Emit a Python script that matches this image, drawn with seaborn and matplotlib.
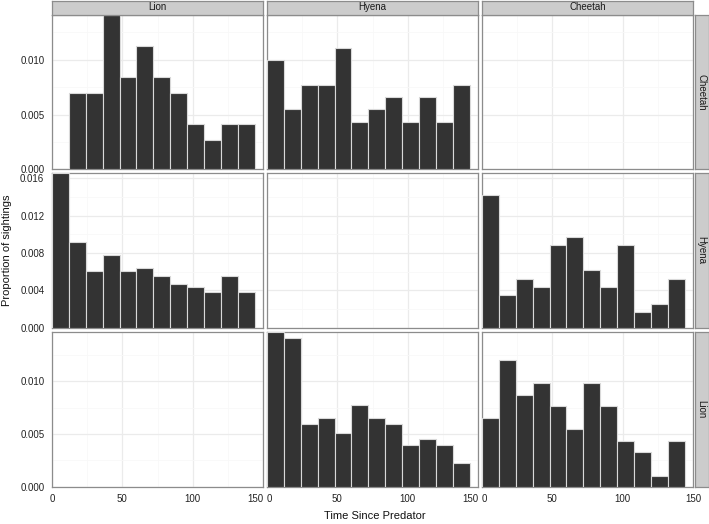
import numpy as np
import pandas as pd
import matplotlib
matplotlib.use("Agg")
import matplotlib.pyplot as plt
import seaborn as sns

# ---- data ----
predators = ["Lion", "Hyena", "Cheetah"]          # columns (facet)
responders = ["Cheetah", "Hyena", "Lion"]         # rows (facet)
bin_edges = [0, 12, 24, 36, 48, 60, 72, 84, 96, 108, 120, 132, 144]

cheetah_after_lion = [0.0, 0.00697, 0.00697, 0.01408, 0.00838, 0.01121, 0.00838, 0.00697, 0.00414, 0.00271, 0.00414, 0.00414]
cheetah_after_hyena = [0.00994, 0.00548, 0.00771, 0.00771, 0.01103, 0.00436, 0.00548, 0.00658, 0.00436, 0.00658, 0.00436, 0.00771]
hyena_after_lion = [0.01653, 0.00921, 0.0061, 0.00778, 0.0061, 0.00636, 0.0055, 0.00468, 0.00439, 0.00382, 0.0055, 0.00382]
hyena_after_cheetah = [0.01421, 0.00347, 0.00525, 0.00436, 0.00882, 0.00974, 0.00615, 0.00436, 0.00882, 0.00168, 0.00257, 0.00525]
lion_after_hyena = [0.01469, 0.01407, 0.00597, 0.00654, 0.00512, 0.00772, 0.00654, 0.00597, 0.00398, 0.00455, 0.00398, 0.00222]
lion_after_cheetah = [0.00654, 0.01204, 0.00872, 0.00983, 0.00762, 0.00547, 0.00983, 0.00762, 0.0043, 0.00326, 0.00104, 0.0043]

panel_data = {
    ("Cheetah", "Lion"): cheetah_after_lion,
    ("Cheetah", "Hyena"): cheetah_after_hyena,
    ("Hyena", "Lion"): hyena_after_lion,
    ("Hyena", "Cheetah"): hyena_after_cheetah,
    ("Lion", "Hyena"): lion_after_hyena,
    ("Lion", "Cheetah"): lion_after_cheetah,
}

x_ticks = [0, 50, 100, 150]
x_tick_labels = ["0", "50", "100", "150"]
row_yticks = {
    "Cheetah": [0.0, 0.005, 0.010],
    "Hyena": [0.0, 0.004, 0.008, 0.012, 0.016],
    "Lion": [0.0, 0.005, 0.010],
}
row_ymax = {"Cheetah": 0.01408, "Hyena": 0.01653, "Lion": 0.01469}

# ---- style ----
sns.set_style("white")
plt.rcParams["font.family"] = ["Liberation Sans", "DejaVu Sans"]

W, H = 709, 524
fig = plt.figure(figsize=(W / 100, H / 100), dpi=100)

col_x = [(52, 263), (267, 478), (482, 693)]
row_y = [(15, 169.3), (173.3, 327.7), (331.7, 486.7)]
border_c = "#8c8c8c"
strip_c = "#cccccc"

def fig_rect(x0, x1, y0, y1):
    return [x0 / W, 1 - y1 / H, (x1 - x0) / W, (y1 - y0) / H]

centers = [(bin_edges[i] + bin_edges[i + 1]) / 2 for i in range(len(bin_edges) - 1)]

for ri, resp in enumerate(responders):
    for ci, pred in enumerate(predators):
        x0, x1 = col_x[ci]
        y0, y1 = row_y[ri]
        ax = fig.add_axes(fig_rect(x0, x1, y0, y1))
        ax.set_facecolor("white")
        vals = panel_data.get((resp, pred))
        if vals is not None:
            df = pd.DataFrame({"t": centers, "w": vals})
            sns.histplot(data=df, x="t", weights="w", bins=bin_edges, stat="count",
                         color="#333333", alpha=1, edgecolor="#d9d9d9", linewidth=0.8,
                         ax=ax, zorder=3)
        ax.set_xlim(0, 150)
        ax.set_ylim(0, row_ymax[resp])
        yt = row_yticks[resp]
        ax.set_yticks(yt)
        ax.set_xticks(x_ticks)
        ax.set_xticks([25, 75, 125], minor=True)
        ymid = [(yt[i] + yt[i + 1]) / 2 for i in range(len(yt) - 1)]
        ymid.append(yt[-1] + (yt[1] - yt[0]) / 2)
        ax.set_yticks([m for m in ymid if m < row_ymax[resp]], minor=True)
        ax.grid(True, which="major", color="#ebebeb", linewidth=0.9, zorder=0)
        ax.grid(True, which="minor", color="#f8f8f8", linewidth=0.6, zorder=0)
        ax.set_axisbelow(True)
        ax.tick_params(axis="both", which="minor", length=0)
        ax.tick_params(axis="both", which="major", length=3.5, width=0.8, color="#333333",
                       labelsize=7, labelcolor="#222222", pad=2)
        if ci == 0:
            ax.set_yticklabels([f"{v:.3f}" for v in yt])
        else:
            ax.tick_params(axis="y", labelleft=False, length=0)
        if ri == len(responders) - 1:
            ax.set_xticklabels(x_tick_labels)
            labs = ax.get_xticklabels()
            if ci > 0:
                labs[0].set_horizontalalignment("left")
            if ci < len(predators) - 1:
                labs[-1].set_horizontalalignment("right")
        else:
            ax.tick_params(axis="x", labelbottom=False, length=0)
        ax.set_xlabel("")
        ax.set_ylabel("")
        for s in ax.spines.values():
            s.set_color(border_c)
            s.set_linewidth(0.9)
            s.set_visible(True)

        # top strips
        if ri == 0:
            sax = fig.add_axes(fig_rect(x0, x1, 0.5, 14.5))
            sax.set_facecolor(strip_c)
            sax.set_xticks([]); sax.set_yticks([])
            for s in sax.spines.values():
                s.set_color(border_c); s.set_linewidth(0.9)
            sax.text(0.5, 0.5, pred, ha="center", va="center", fontsize=7,
                     color="#1a1a1a", transform=sax.transAxes)
        # right strips
        if ci == len(predators) - 1:
            sax = fig.add_axes(fig_rect(694.5, 708.5, y0, y1))
            sax.set_facecolor(strip_c)
            sax.set_xticks([]); sax.set_yticks([])
            for s in sax.spines.values():
                s.set_color(border_c); s.set_linewidth(0.9)
            sax.text(0.5, 0.5, resp, ha="center", va="center", fontsize=7,
                     rotation=-90, color="#1a1a1a", transform=sax.transAxes)

fig.text(375 / W, 1 - 516 / H, "Time Since Predator", ha="center", va="center",
         fontsize=8, color="#111111")
fig.text(7 / W, 1 - 250 / H, "Proportion of sightings", ha="center", va="center",
         rotation=90, fontsize=8, color="#111111")

fig.savefig("out.png", dpi=100, facecolor="white")
